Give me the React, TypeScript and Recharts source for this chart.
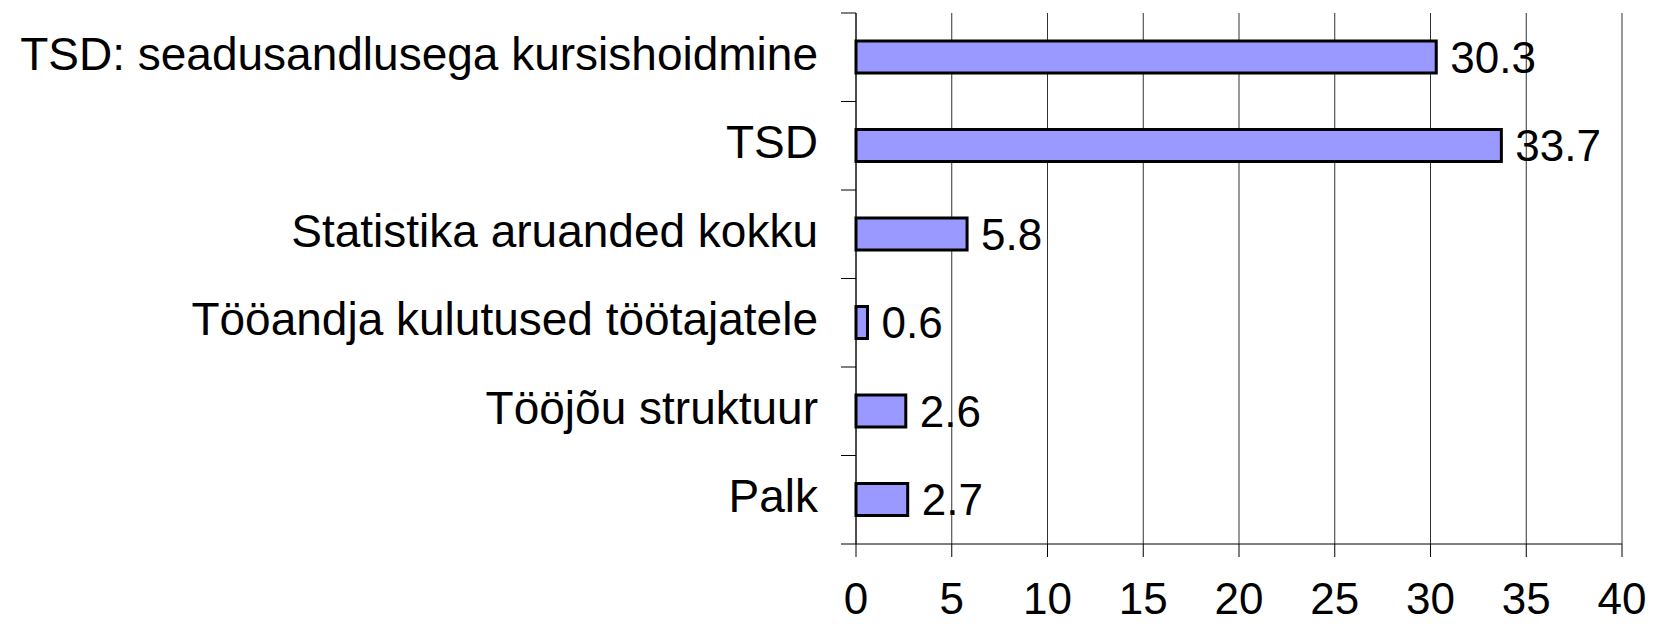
import { BarChart, Bar, XAxis, YAxis, CartesianGrid, LabelList } from 'recharts'

const categories = [
  'TSD: seadusandlusega kursishoidmine',
  'TSD',
  'Statistika aruanded kokku',
  'Tööandja kulutused töötajatele',
  'Tööjõu struktuur',
  'Palk',
]
const values = [30.3, 33.7, 5.8, 0.6, 2.6, 2.7]
const xTicks = [0, 5, 10, 15, 20, 25, 30, 35, 40]

const data = categories.map((name, i) => ({ name, value: values[i] }))

const W = 1656
const H = 624
const TOP = 13
const AXIS_W = 856
const X_AXIS_H = 80
const FONT = '"Liberation Sans", Arial, sans-serif'
const band = (H - X_AXIS_H - TOP) / categories.length

function CategoryTick({ y, payload, index }: any) {
  const isLast = index === categories.length - 1
  return (
    <g>
      <line x1={AXIS_W - 15} x2={AXIS_W} y1={y - band / 2} y2={y - band / 2} stroke="#000" />
      {isLast && (
        <line x1={AXIS_W - 15} x2={AXIS_W} y1={y + band / 2} y2={y + band / 2} stroke="#000" />
      )}
      <text
        x={AXIS_W - 38}
        y={y - 4}
        dy="0.355em"
        textAnchor="end"
        fontSize={46}
        fontFamily={FONT}
        fill="#000"
      >
        {payload.value}
      </text>
    </g>
  )
}

export default function App() {
  return (
    <div style={{ position: 'absolute', left: 0, top: 0, width: W, height: H, background: '#fff' }}>
      <BarChart
        width={W}
        height={H}
        data={data}
        layout="vertical"
        margin={{ top: TOP, right: 34, bottom: 0, left: 0 }}
      >
        <CartesianGrid horizontal={false} stroke="#333" />
        <XAxis
          type="number"
          domain={[0, 40]}
          ticks={xTicks}
          interval={0}
          height={X_AXIS_H}
          tickSize={13}
          tickMargin={26}
          axisLine={{ stroke: '#000' }}
          tickLine={{ stroke: '#000' }}
          tick={{ fontSize: 44, fill: '#000', fontFamily: FONT }}
        />
        <YAxis
          type="category"
          dataKey="name"
          width={AXIS_W}
          interval={0}
          tickLine={false}
          axisLine={{ stroke: '#000' }}
          tick={<CategoryTick />}
        />
        <Bar
          dataKey="value"
          fill="#9999ff"
          stroke="#000"
          strokeWidth={3}
          barSize={32}
          isAnimationActive={false}
        >
          <LabelList
            dataKey="value"
            position="right"
            offset={14}
            fill="#000"
            fontSize={44}
            fontFamily={FONT}
          />
        </Bar>
      </BarChart>
    </div>
  )
}
